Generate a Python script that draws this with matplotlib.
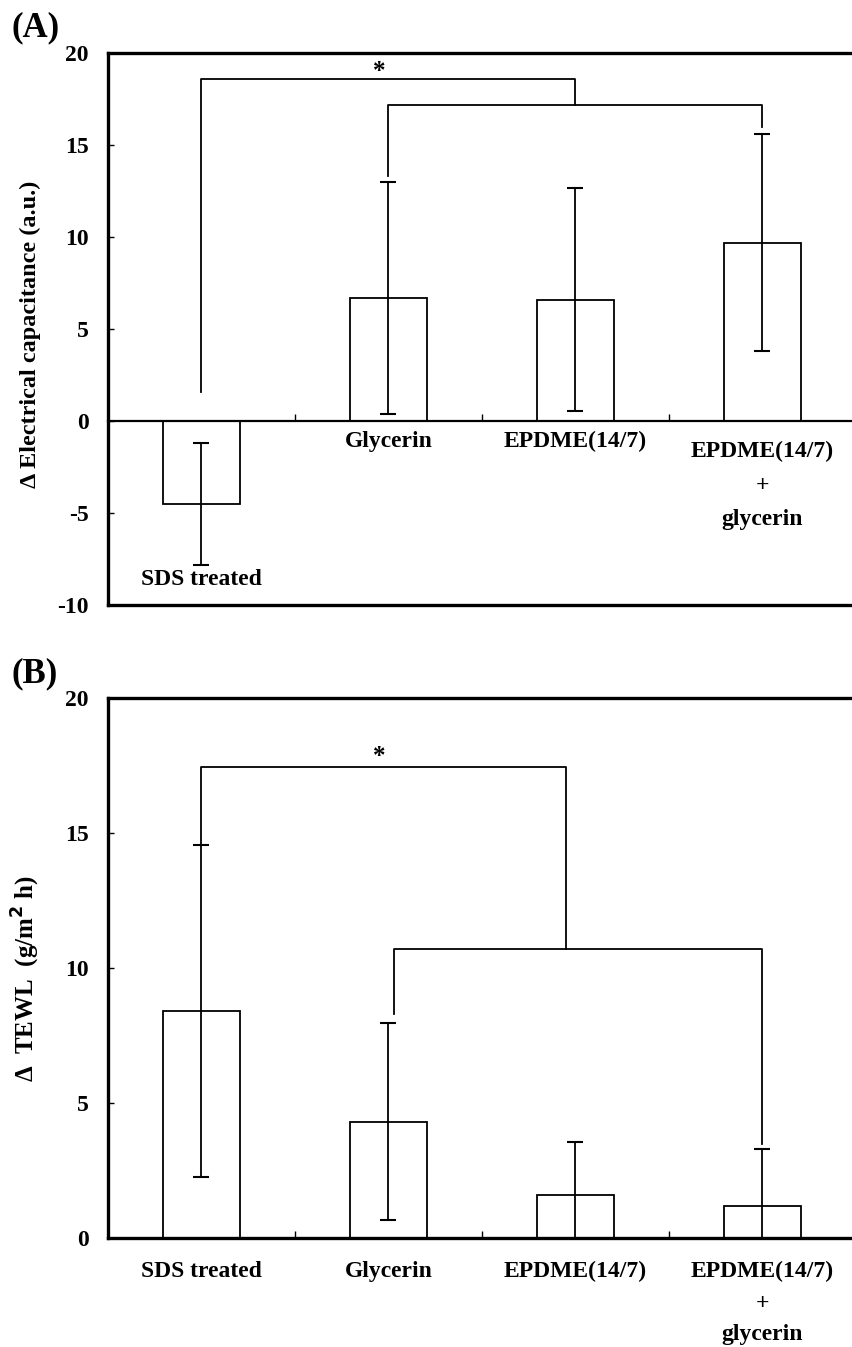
import matplotlib
matplotlib.use("Agg")
import matplotlib.pyplot as plt
import numpy as np

plt.rcParams['font.family'] = ['Liberation Serif', 'DejaVu Serif']
plt.rcParams['font.weight'] = 'bold'

# panel A: electrical capacitance
cap_mean = [-4.5, 6.7, 6.6, 9.7]
cap_err = [3.3, 6.3, 6.05, 5.9]
cap_labels = ["SDS treated", "Glycerin", "EPDME(14/7)", "EPDME(14/7)\n+\nglycerin"]
cap_ticks = [-10, -5, 0, 5, 10, 15, 20]

# panel B: TEWL
tewl_mean = [8.4, 4.3, 1.6, 1.2]
tewl_err = [6.15, 3.65, 1.95, 2.1]
tewl_labels = ["SDS treated", "Glycerin", "EPDME(14/7)", "EPDME(14/7)\n+\nglycerin"]
tewl_ticks = [0, 5, 10, 15, 20]

W, H = 853, 1347
fig = plt.figure(figsize=(W / 100, H / 100), dpi=100)

left = 108 / W
width = 748 / W
axA = fig.add_axes([left, 1 - 605 / H, width, (605 - 53) / H])
axB = fig.add_axes([left, 1 - 1238 / H, width, (1238 - 698) / H])

x = np.arange(4)


def draw_bars(ax, mean, err):
    ax.bar(x, mean, width=0.41, color='white', edgecolor='black', linewidth=1.3, zorder=2)
    ax.errorbar(x, mean, yerr=err, fmt='none', ecolor='black', elinewidth=1.3,
                capsize=5.8, capthick=1.5, zorder=3)


def style(ax, ticks):
    ax.set_xlim(-0.5, 3.5)
    ax.set_ylim(ticks[0], ticks[-1])
    ax.spines['right'].set_visible(False)
    for s in ['left', 'top', 'bottom']:
        ax.spines[s].set_linewidth(2.4)
    ax.set_xticks([0.5, 1.5, 2.5])
    ax.set_xticklabels([])
    ax.tick_params(axis='x', direction='in', length=5, width=1)
    ax.set_yticks(ticks)
    ax.set_yticklabels([str(t) for t in ticks], fontsize=17, fontweight='bold')
    ax.tick_params(axis='y', direction='in', length=4, width=1, pad=14)


def bracket(ax, x0, x1, y, y0, y1, lw=1.3):
    ax.plot([x0, x0, x1, x1], [y0, y, y, y1], color='black', lw=lw, zorder=4)


# ---- panel A ----
draw_bars(axA, cap_mean, cap_err)
style(axA, cap_ticks)
axA.spines['bottom'].set_position(('data', 0))
axA.spines['bottom'].set_linewidth(1.6)
axA.axhline(-10, color='black', lw=2.4, clip_on=False, zorder=5)
axA.set_ylabel("\u0394 Electrical capacitance (a.u.)", fontsize=17.5, fontweight='bold')
axA.yaxis.set_label_coords(-0.09, 0.49)

axA.text(0, -8.6, cap_labels[0], ha='center', va='center', fontsize=17, fontweight='bold')
for i in [1, 2]:
    axA.text(i, -0.55, cap_labels[i], ha='center', va='top', fontsize=17, fontweight='bold')
axA.text(3, -1.1, cap_labels[3], ha='center', va='top', fontsize=17, fontweight='bold',
         linespacing=1.8)

bracket(axA, 0, 2, 18.6, 1.6, 17.2)
bracket(axA, 1, 3, 17.2, 13.3, 16.0)
axA.text(0.95, 19.0, "*", ha='center', va='center', fontsize=18, fontweight='bold')

fig.text(12 / W, 1 - 28 / H, "(A)", fontsize=25, fontweight='bold', va='center')

# ---- panel B ----
draw_bars(axB, tewl_mean, tewl_err)
style(axB, tewl_ticks)
axB.set_ylabel("\u0394  TEWL  (g/m$\\mathbf{^2}$ h)", fontsize=18, fontweight='bold')
axB.yaxis.set_label_coords(-0.088, 0.48)

for i in range(3):
    axB.text(i, -0.85, tewl_labels[i], ha='center', va='top', fontsize=17, fontweight='bold')
axB.text(3, -0.85, tewl_labels[3], ha='center', va='top', fontsize=17, fontweight='bold',
         linespacing=1.65)

bracket(axB, 0, 1.95, 17.45, 14.6, 10.7)
bracket(axB, 1.03, 3, 10.7, 8.3, 3.5)
axB.text(0.95, 17.85, "*", ha='center', va='center', fontsize=18, fontweight='bold')

fig.text(12 / W, 1 - 674 / H, "(B)", fontsize=25, fontweight='bold', va='center')

fig.savefig("out.png", dpi=100)
